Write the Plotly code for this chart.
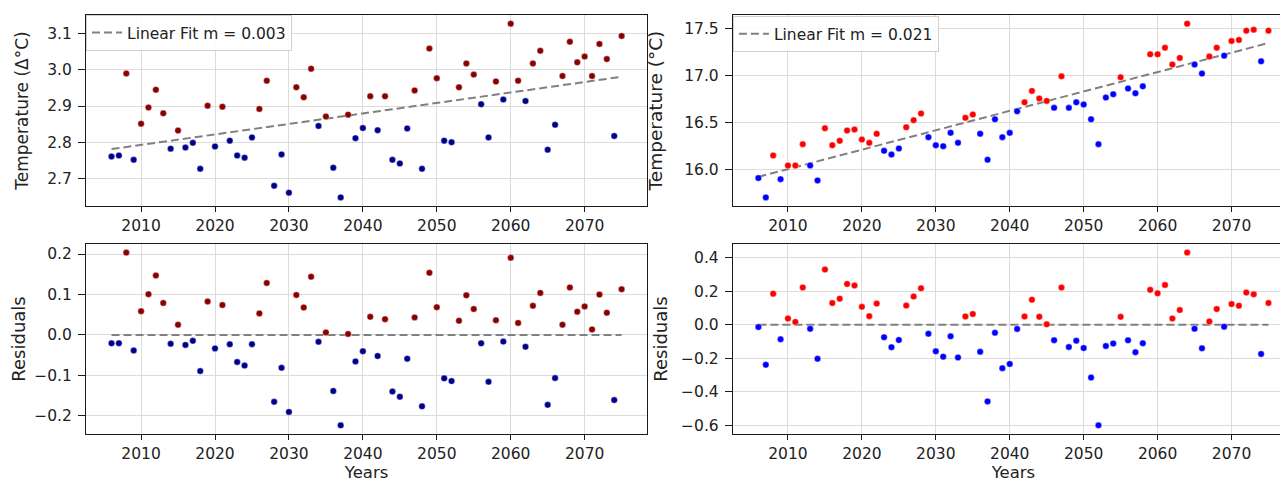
import numpy as np
import plotly.graph_objects as go
from plotly.subplots import make_subplots

years = list(range(2006, 2076))

# Temperature anomaly (Δ°C), left column
anomaly = [
    2.760, 2.763, 2.990, 2.751, 2.851, 2.896, 2.945, 2.880, 2.782, 2.832,
    2.785, 2.798, 2.726, 2.901, 2.788, 2.898, 2.804, 2.763, 2.757, 2.813,
    2.892, 2.970, 2.679, 2.766, 2.660, 2.952, 2.924, 3.003, 2.845, 2.871,
    2.729, 2.647, 2.876, 2.811, 2.839, 2.927, 2.833, 2.927, 2.751, 2.741,
    2.838, 2.943, 2.726, 3.059, 2.977, 2.804, 2.800, 2.952, 3.018, 2.987,
    2.905, 2.813, 2.968, 2.918, 3.128, 2.970, 2.914, 3.018, 3.053, 2.779,
    2.848, 2.983, 3.078, 3.021, 3.037, 2.983, 3.072, 3.030, 2.817, 3.094,
]

# Temperature (°C), right column
temperature = [
    15.908, 15.703, 16.149, 15.897, 16.042, 16.042, 16.269, 16.042, 15.883, 16.438,
    16.258, 16.305, 16.414, 16.425, 16.318, 16.283, 16.379, 16.198, 16.159, 16.223,
    16.449, 16.524, 16.594, 16.343, 16.258, 16.247, 16.389, 16.283, 16.549, 16.584,
    16.379, 16.103, 16.534, 16.343, 16.389, 16.619, 16.714, 16.835, 16.754, 16.729,
    16.655, 16.990, 16.655, 16.714, 16.690, 16.534, 16.269, 16.764, 16.800, 16.980,
    16.860, 16.810, 16.884, 17.224, 17.224, 17.295, 17.115, 17.186, 17.550, 17.115,
    17.019, 17.200, 17.295, 17.210, 17.366, 17.377, 17.476, 17.486, 17.150, 17.476,
]

FONT = "DejaVu Sans"
TXT = "#222222"
DASH = "8px,4px"

fig = make_subplots(rows=2, cols=2)

def pad_range(vals, frac=0.05):
    lo, hi = min(vals), max(vals)
    d = (hi - lo) * frac
    return [lo - d, hi + d]

panels = [
    (1, anomaly, "#8b0000", "#00008b", "Temperature (Δ°C)", "legend", 17, 14, 13),
    (2, temperature, "#ff0000", "#0000ff", "Temperature (°C)", "legend2", 18.5, 16, 8),
]

yr = np.array(years, dtype=float)
for col, vals, cpos, cneg, ytitle, leg, tsize, so_t, so_r in panels:
    v = np.array(vals)
    m, b = np.polyfit(yr, v, 1)
    fit = m * yr + b
    resid = v - fit
    colors = [cpos if r > 0 else cneg for r in resid]

    fig.add_trace(go.Scatter(
        x=years, y=fit.tolist(), mode="lines",
        line=dict(color="#808080", width=2, dash=DASH),
        name=f"Linear Fit m = {m:.3f}", legend=leg, showlegend=True,
    ), row=1, col=col)
    fig.add_trace(go.Scatter(
        x=years, y=vals, mode="markers",
        marker=dict(color=colors, size=6.5, line=dict(color="white", width=0.4)),
        showlegend=False,
    ), row=1, col=col)

    fig.add_trace(go.Scatter(
        x=years, y=[0.0] * len(years), mode="lines",
        line=dict(color="#808080", width=2, dash=DASH),
        showlegend=False,
    ), row=2, col=col)
    fig.add_trace(go.Scatter(
        x=years, y=resid.tolist(), mode="markers",
        marker=dict(color=colors, size=6.5, line=dict(color="white", width=0.4)),
        showlegend=False,
    ), row=2, col=col)

    fig.update_yaxes(range=pad_range(vals), row=1, col=col,
                     title=dict(text=ytitle, font=dict(size=tsize, color=TXT), standoff=so_t))
    fig.update_yaxes(range=pad_range(resid.tolist()), row=2, col=col,
                     title=dict(text="Residuals", font=dict(size=18, color=TXT), standoff=so_r))
    fig.update_xaxes(title=dict(text="Years", font=dict(size=16.5, color=TXT), standoff=0),
                     row=2, col=col)

fig.update_yaxes(dtick=0.1, tickformat=".1f", row=1, col=1)
fig.update_yaxes(dtick=0.1, tickformat=".1f", row=2, col=1)
fig.update_yaxes(dtick=0.5, tickformat=".1f", row=1, col=2)
fig.update_yaxes(dtick=0.2, tickformat=".1f", row=2, col=2)

xr = pad_range(years)
fig.update_xaxes(range=xr, tickvals=[2010, 2020, 2030, 2040, 2050, 2060, 2070])

common = dict(showline=True, mirror=True, linecolor="#1a1a1a", linewidth=1.2,
              tickwidth=1.2, tickcolor="#1a1a1a", ticks="outside",
              showgrid=True, gridcolor="#dcdcdc", gridwidth=1, zeroline=False,
              tickfont=dict(family=FONT, size=15.5, color=TXT))
fig.update_xaxes(**common, ticklen=5)
fig.update_yaxes(**common, ticklen=7, ticklabelstandoff=3)

# domains (pixel-matched)
fig.update_layout(
    xaxis=dict(domain=[0.0, 0.4645]), xaxis2=dict(domain=[0.5355, 1.0]),
    xaxis3=dict(domain=[0.0, 0.4645]), xaxis4=dict(domain=[0.5355, 1.0]),
    yaxis=dict(domain=[0.544, 1.0]), yaxis2=dict(domain=[0.544, 1.0]),
    yaxis3=dict(domain=[0.0, 0.4535]), yaxis4=dict(domain=[0.0, 0.4535]),
)

legend_style = dict(bgcolor="rgba(255,255,255,0.85)", bordercolor="#d0d0d0", borderwidth=1,
                    font=dict(family=FONT, size=15.5, color=TXT), xanchor="left", yanchor="top",
                    itemwidth=30)
fig.update_layout(
    width=1288, height=481,
    margin=dict(l=77, r=1, t=7, b=55),
    paper_bgcolor="white", plot_bgcolor="white",
    font=dict(family=FONT, color=TXT),
    legend=dict(x=0.0, y=1.0, **legend_style),
    legend2=dict(x=0.5355, y=0.997, **legend_style),
)

fig.write_html("out.html")
